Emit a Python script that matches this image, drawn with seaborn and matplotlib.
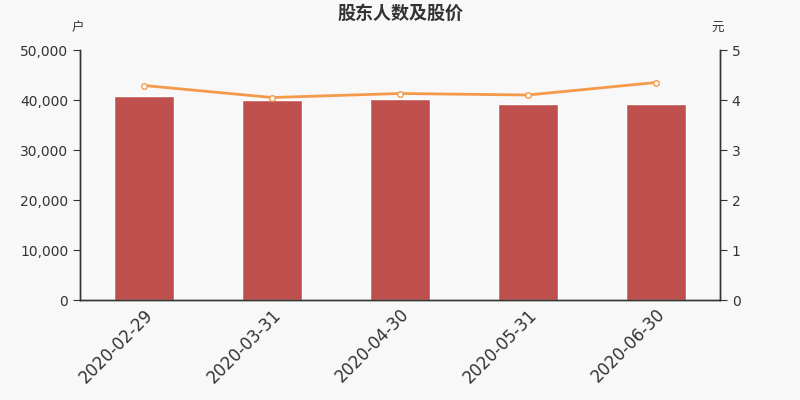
import matplotlib
matplotlib.use('Agg')
import matplotlib.pyplot as plt
import seaborn as sns
import pandas as pd
from matplotlib.ticker import FuncFormatter

dates = ['2020-02-29', '2020-03-31', '2020-04-30', '2020-05-31', '2020-06-30']
holders = [40750, 40050, 40300, 39200, 39250]
prices = [4.29, 4.05, 4.13, 4.10, 4.35]

sns.set_style('white')
plt.rcParams['font.family'] = ['DejaVu Sans', 'Noto Sans CJK SC']

bg = '#f8f8f8'
fig = plt.figure(figsize=(8, 4), dpi=100, facecolor=bg)
ax = fig.add_axes([0.1, 0.25, 0.8, 0.625], facecolor=bg)

df = pd.DataFrame({'date': dates, 'holders': holders, 'price': prices})
sns.barplot(data=df, x='date', y='holders', order=dates, color='#c0504d',
            saturation=1, width=0.47, ax=ax)
ax.set_xlim(-0.5, len(dates) - 0.5)
ax.set_ylim(0, 50000)
ax.set_yticks(range(0, 50001, 10000))
ax.yaxis.set_major_formatter(FuncFormatter(lambda v, p: f'{int(v):,}'))
ax.set_xlabel('')
ax.set_ylabel('')

# ticks at category boundaries, labels at centers
ax.set_xticks([i - 0.5 for i in range(len(dates) + 1)])
ax.set_xticklabels([])
ax.set_xticks(range(len(dates)), minor=True)
ax.set_xticklabels(dates, minor=True, rotation=45, ha='right',
                   rotation_mode='anchor', fontsize=12, color='#333333')
ax.tick_params(axis='x', which='minor', length=0, pad=4)
ax.tick_params(axis='x', which='major', length=5, color='#333333')
ax.tick_params(axis='y', length=5, color='#333333', labelsize=10, labelcolor='#333333')

ax2 = ax.twinx()
sns.lineplot(x=range(len(dates)), y=prices, ax=ax2, color='#f59a4a', lw=2,
             marker='o', markersize=4, markerfacecolor='white',
             markeredgecolor='#f59a4a', markeredgewidth=1)
ax2.set_ylim(0, 5)
ax2.set_yticks(range(0, 6))
ax2.tick_params(axis='y', length=5, color='#333333', labelsize=10, labelcolor='#333333')

for a in (ax, ax2):
    a.spines['top'].set_visible(False)
    for s in ('left', 'right', 'bottom'):
        a.spines[s].set_color('#333333')
        a.spines[s].set_linewidth(1)

cjk = ['Noto Sans CJK SC', 'DejaVu Sans']
fig.text(0.5, 0.967, '股东人数及股价', ha='center', va='center', fontsize=13,
         fontweight='bold', color='#333333', family=cjk)
fig.text(0.0975, 0.93, '户', ha='center', va='center', fontsize=9,
         color='#333333', family=cjk)
fig.text(0.8975, 0.93, '元', ha='center', va='center', fontsize=9,
         color='#333333', family=cjk)

fig.savefig('out.png', dpi=100, facecolor=bg)
